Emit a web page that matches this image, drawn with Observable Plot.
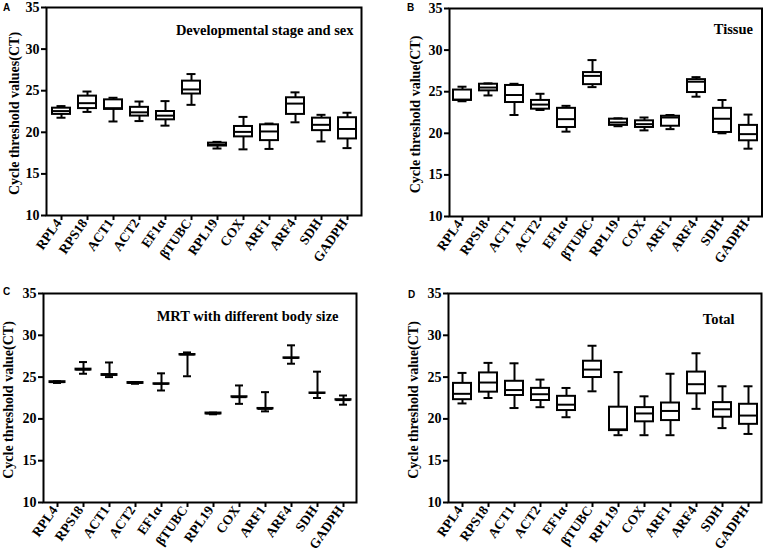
<!DOCTYPE html>
<html><head><meta charset="utf-8">
<script src="https://cdn.jsdelivr.net/npm/d3@7"></script>
<script src="https://cdn.jsdelivr.net/npm/@observablehq/plot@0.6"></script>
<style>
body{margin:0;background:#fff;}
#wrap{position:relative;width:765px;height:558px;overflow:hidden;background:#fff}
#wrap svg{position:absolute;overflow:visible}
.letter{position:absolute;font:bold 10px "Liberation Sans",Arial,sans-serif;color:#000;line-height:10px}
</style></head><body><div id="wrap"></div>
<script>
const genes = ["RPL4","RPS18","ACT1","ACT2","EF1α","βTUBC","RPL19","COX","ARF1","ARF4","SDH","GADPH"];
const yTicks = [10,15,20,25,30,35];

// Panel A: Developmental stage and sex
const aMin = [21.75,22.45,21.3,21.35,20.8,23.3,18.05,17.95,18.0,21.2,18.9,18.1];
const aQ1  = [22.15,22.85,22.75,21.95,21.5,24.6,18.35,19.45,19.0,22.15,20.2,19.2];
const aMed = [22.55,23.5,22.9,22.4,22.0,25.15,18.5,20.05,20.1,23.45,20.9,20.4];
const aQ3  = [22.9,24.35,23.9,23.0,22.5,26.15,18.7,20.7,20.9,24.15,21.7,21.75];
const aMax = [23.15,24.9,24.15,23.7,23.75,27.0,18.85,21.85,21.05,24.8,22.1,22.35];

// Panel B: Tissue
const bMin = [23.85,24.55,22.2,22.8,20.2,25.55,20.85,20.35,20.5,24.4,20.0,18.15];
const bQ1  = [23.95,25.1,23.7,22.9,20.7,25.85,20.95,20.7,20.85,24.9,20.1,19.1];
const bMed = [24.05,25.5,24.6,23.45,21.7,26.9,21.3,21.1,21.9,26.2,21.75,19.9];
const bQ3  = [25.2,25.9,25.75,23.95,23.0,27.3,21.7,21.5,22.05,26.45,23.0,20.95];
const bMax = [25.6,26.0,25.95,24.75,23.3,28.8,21.8,21.9,22.2,26.75,24.0,22.25];

// Panel C: MRT with different body size
const cMin = [24.3,25.4,25.0,24.2,23.4,25.1,20.55,21.8,20.9,26.6,22.5,21.7];
const cQ1  = [24.35,25.85,25.2,24.25,24.15,27.65,20.6,22.6,21.2,27.25,23.05,22.25];
const cMed = [24.4,25.9,25.3,24.3,24.2,27.7,20.65,22.6,21.2,27.3,23.1,22.25];
const cQ3  = [24.45,25.95,25.3,24.35,24.2,27.7,20.7,22.65,21.25,27.3,23.1,22.3];
const cMax = [24.5,26.8,26.75,24.4,25.45,27.95,20.75,24.0,23.2,28.8,25.65,22.8];

// Panel D: Total
const dMin = [21.85,22.5,21.3,21.4,20.2,23.3,18.05,18.05,18.05,21.2,18.9,18.2];
const dQ1  = [22.3,23.2,22.8,22.2,21.0,24.95,18.6,19.65,19.8,23.0,20.2,19.35];
const dMed = [23.0,24.35,23.45,22.95,21.7,25.9,18.75,20.65,20.95,24.15,21.15,20.4];
const dQ3  = [24.25,25.5,24.5,23.65,22.7,26.9,21.4,21.35,21.9,25.6,21.95,21.75];
const dMax = [25.5,26.7,26.65,24.7,23.7,28.75,25.6,22.7,25.4,27.85,23.9,23.9];

const titles = ["Developmental stage and sex","Tissue","MRT with different body size","Total"];
const yLabels = ["Cycle threshold values(CT)","Cycle threshold value(CT)","Cycle threshold value(CT)","Cycle threshold value(CT)"];
const letters = ["A","B","C","D"];

const serif = '"Liberation Serif","Times New Roman",serif';
const SVGNS = "http://www.w3.org/2000/svg";

function rows(mn,q1,md,q3,mx){
  return genes.map((g,i)=>({gene:g,min:mn[i],q1:q1[i],med:md[i],q3:q3[i],max:mx[i]}));
}

const panels = [
  {data:rows(aMin,aQ1,aMed,aQ3,aMax), left:0, top:0, width:380, height:278, mL:46, mR:19, mT:7, mB:63, tdx:-8, tdy:17, ldx:-31.5, boxIn:4, capIn:8.5},
  {data:rows(bMin,bQ1,bMed,bQ3,bMax), left:380, top:0, width:385, height:278, mL:69, mR:3.5, mT:8, mB:62, tdx:-9, tdy:15, ldx:-33.5, boxIn:4, capIn:8.5},
  {data:rows(cMin,cQ1,cMed,cQ3,cMax), left:0, top:278, width:380, height:280, mL:43, mR:24, mT:15, mB:56, tdx:-18, tdy:17.5, ldx:-35, boxIn:5.5, capIn:9},
  {data:rows(dMin,dQ1,dMed,dQ3,dMax), left:380, top:278, width:385, height:280, mL:68, mR:4, mT:15, mB:56, tdx:-27, tdy:20, ldx:-34.5, boxIn:4, capIn:8.5}
];
const letterPos = [[3,3],[407,3],[3,287],[408,290]];

const wrap = document.getElementById("wrap");
panels.forEach((p,k)=>{
  const svg = Plot.plot({
    width:p.width, height:p.height,
    marginLeft:p.mL, marginRight:p.mR, marginTop:p.mT, marginBottom:p.mB,
    style:{fontFamily:serif, fontWeight:"bold", fontSize:"12px", color:"#000", background:"transparent", overflow:"visible"},
    x:{type:"band", domain:genes, padding:0, label:null},
    y:{domain:[10,35], ticks:yTicks, label:null},
    marks:[
      Plot.frame({stroke:"#000", strokeWidth:2}),
      Plot.axisY({ticks:yTicks, tickSize:5, tickPadding:2, strokeWidth:2, fontSize:14, label:null, fill:"#000"}),
      Plot.axisX({tickSize:5, tickFormat:()=>"", strokeWidth:2, label:null}),
      Plot.ruleX(p.data, {x:"gene", y1:"min", y2:"max", stroke:"#000", strokeWidth:2}),
      Plot.barY(p.data, {x:"gene", y1:"q1", y2:"q3", fill:"#fff", stroke:"#000", strokeWidth:2, insetLeft:p.boxIn, insetRight:p.boxIn}),
      Plot.tickY(p.data, {x:"gene", y:"med", stroke:"#000", strokeWidth:2, insetLeft:p.boxIn, insetRight:p.boxIn}),
      Plot.tickY(p.data, {x:"gene", y:"min", stroke:"#000", strokeWidth:2, insetLeft:p.capIn, insetRight:p.capIn}),
      Plot.tickY(p.data, {x:"gene", y:"max", stroke:"#000", strokeWidth:2, insetLeft:p.capIn, insetRight:p.capIn}),
      Plot.text([titles[k]], {frameAnchor:"top-right", dx:p.tdx, dy:p.tdy, textAnchor:"end", fontSize:14.5, fontWeight:"bold", fill:"#000"}),
      Plot.text([yLabels[k]], {frameAnchor:"left", dx:p.ldx, dy:2, rotate:-90, textAnchor:"middle", lineAnchor:"middle", fontSize:14, fontWeight:"bold", fill:"#000"})
    ]
  });
  svg.style.left = p.left + "px";
  svg.style.top = p.top + "px";
  wrap.appendChild(svg);

  // rotated category labels, placed with the plot's own x scale
  const xs = svg.scale("x");
  const bottom = p.height - p.mB;
  const ov = document.createElementNS(SVGNS, "svg");
  ov.setAttribute("width", p.width);
  ov.setAttribute("height", p.height);
  ov.setAttribute("style", `left:${p.left}px;top:${p.top}px;font:bold 13.5px ${serif};`);
  genes.forEach(g=>{
    const cx = xs.apply(g) + xs.bandwidth/2;
    const t = document.createElementNS(SVGNS, "text");
    t.setAttribute("transform", `translate(${cx+1},${bottom+8}) rotate(-55)`);
    t.setAttribute("text-anchor", "end");
    t.setAttribute("fill", "#000");
    t.textContent = g;
    ov.appendChild(t);
  });
  wrap.appendChild(ov);

  const L = document.createElement("div");
  L.className = "letter";
  L.textContent = letters[k];
  L.style.left = letterPos[k][0] + "px";
  L.style.top = letterPos[k][1] + "px";
  wrap.appendChild(L);
});
</script>
</body></html>
